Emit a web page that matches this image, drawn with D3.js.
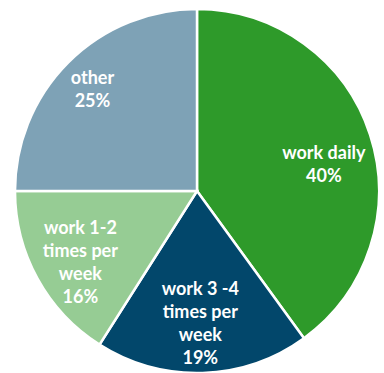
<!DOCTYPE html>
<html>
<head>
<meta charset="utf-8">
<script src="https://cdn.jsdelivr.net/npm/d3@7"></script>
<style>
  html, body { margin: 0; padding: 0; background: #fff; }
  svg { display: block; }
  .label { font-family: Lato, "Open Sans", sans-serif; font-weight: bold; fill: #fff; }
</style>
</head>
<body>
<svg id="chart" width="384" height="373"></svg>
<script>
// slices, clockwise from 12 o'clock
const categories = ["work daily", "work 3-4 times per week", "work 1-2 times per week", "other"];
const shares = [40, 19, 16, 25];
const labelLines = [
    ["work daily", "40%"],
    ["work 3 -4", "times per", "week", "19%"],
    ["work 1-2", "times per", "week", "16%"],
    ["other", "25%"]
];
const colors = ["#2e9a2a", "#02476b", "#96cc94", "#7ea2b6"];

const width = 384, height = 373;
const cx = 197, cy = 191, radius = 182;
const lineHeight = 23;
//small shifts from the bisector position, like the spreadsheet placed them
const labelNudge = [[-3, 15], [-1, -4], [3, 5], [-8, -5]];

const svg = d3.select("#chart");
const g = svg.append("g").attr("transform", `translate(${cx},${cy})`);

const data = categories.map((c, i) => ({name: c, value: shares[i], lines: labelLines[i], nudge: labelNudge[i]}));

const pie = d3.pie()
    .value(d => d.value)
    .sort(null);

const arc = d3.arc()
    .innerRadius(0)
    .outerRadius(radius);

//label position along the slice bisector
const labelArc = d3.arc()
    .innerRadius(radius * 0.75)
    .outerRadius(radius * 0.75);

const color = d3.scaleOrdinal()
    .domain(categories)
    .range(colors);

const arcs = pie(data);

g.selectAll(".slice")
    .data(arcs)
    .enter()
    .append("path")
    .attr("class", "slice")
    .attr("d", arc)
    .attr("fill", d => color(d.data.name))
    .attr("stroke", "#fff")
    .attr("stroke-width", 2.5)
    .attr("stroke-linejoin", "miter");

const labels = g.selectAll(".label")
    .data(arcs)
    .enter()
    .append("text")
    .attr("class", "label")
    .attr("text-anchor", "middle")
    .style("font-size", "18px")
    .attr("transform", d => {
        const [x, y] = labelArc.centroid(d);
        return `translate(${x + d.data.nudge[0]},${y + d.data.nudge[1]})`;
    });

labels.selectAll("tspan")
    .data(d => d.data.lines.map((t, i, a) => ({t, i, n: a.length})))
    .enter()
    .append("tspan")
    .attr("x", 0)
    .attr("y", d => (d.i - (d.n - 1) / 2) * lineHeight)
    .attr("dy", "0.35em")
    .text(d => d.t);
</script>
</body>
</html>
